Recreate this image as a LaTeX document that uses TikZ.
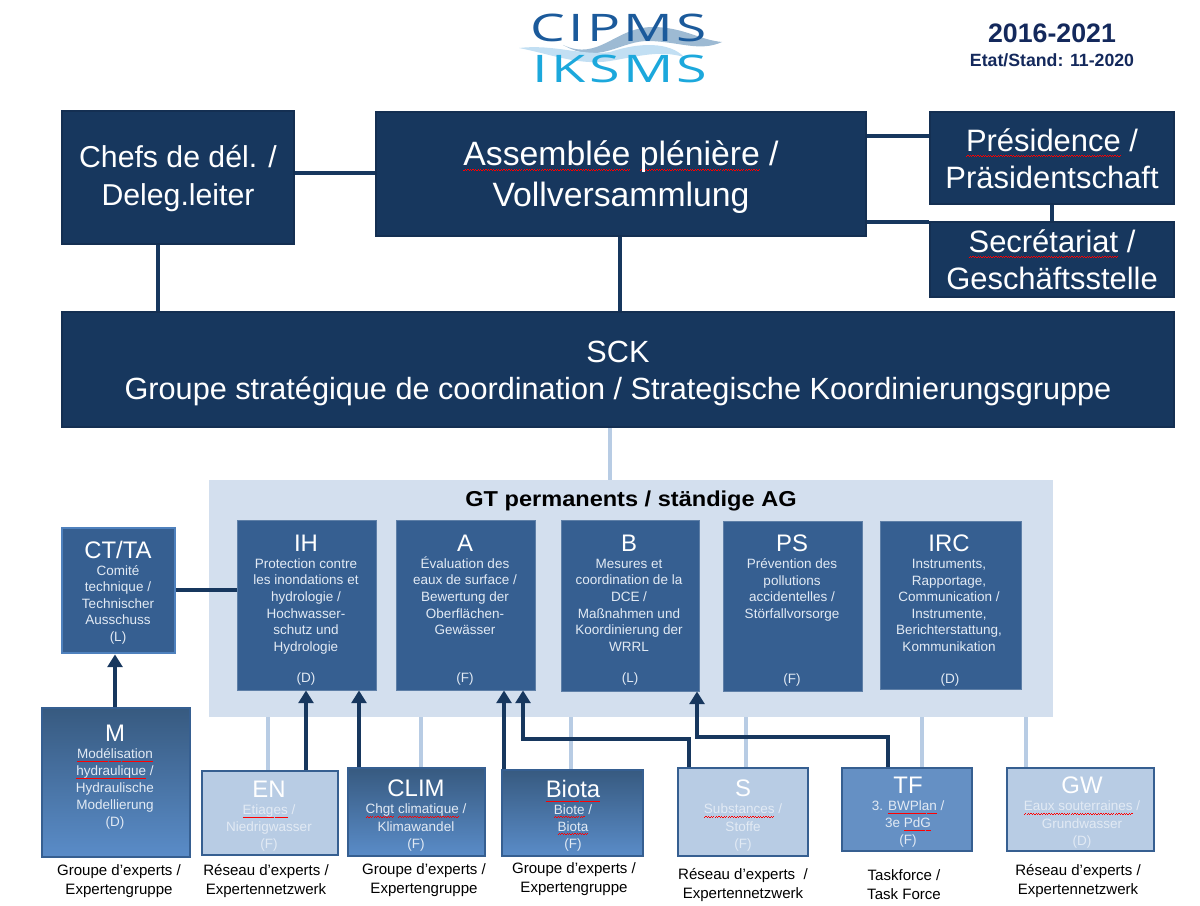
\documentclass[tikz,border=0pt]{standalone}
\usepackage{fontspec}
\setmainfont{Liberation Sans}
\newfontfamily\logofont[LetterSpace=6]{Open Sans}
\usetikzlibrary{arrows.meta}
\definecolor{navy}{HTML}{17375E}
\definecolor{navyedge}{HTML}{142F52}
\definecolor{steel}{HTML}{365F91}
\definecolor{steeledge}{HTML}{4F81BD}
\definecolor{pale}{HTML}{B8CCE4}
\definecolor{panel}{HTML}{D3DFEE}
\definecolor{midblue}{HTML}{6590C4}
\definecolor{gradtop}{HTML}{375A80}
\definecolor{gradbot}{HTML}{5A8CC8}
\definecolor{smalltext}{HTML}{E2EAF4}
\definecolor{logodark}{HTML}{1B5A9B}
\definecolor{logocyan}{HTML}{1CA8DC}
\definecolor{wavegrey}{HTML}{9DBAD3}
\definecolor{wavelight}{HTML}{C2DFF3}
\definecolor{titleblue}{HTML}{14295C}
\def\px{0.025cm}
\tikzset{
	x=\px, y=-\px,
	topbox/.style={draw=navyedge, fill=navy, line width=1.6pt, text=white, align=center},
	wgbox/.style={draw=steel!80!white, fill=steel, line width=0.6pt},
	tabox/.style={draw=steeledge, fill=steel, line width=2pt},
	gradbox/.style={draw=steel, top color=gradtop, bottom color=gradbot, line width=1.8pt},
	palebox/.style={draw=steel, fill=pale, line width=2pt},
	tfbox/.style={draw=steel, fill=midblue, line width=2pt},
	boxtext/.style={anchor=north, text=smalltext, align=center, inner sep=0pt, font=\fontsize{9.6}{11.8}\selectfont},
	expertext/.style={boxtext, font=\fontsize{9.6}{12.1}\selectfont},
	langtext/.style={text=smalltext, inner sep=0pt, font=\fontsize{9.6}{11.7}\selectfont},
	caption/.style={align=center, inner sep=0pt, text=black, font=\fontsize{10.7}{13.6}\selectfont},
	darkline/.style={draw=navy, line width=2.8pt},
	paleline/.style={draw=pale, line width=2.8pt},
	arrowline/.style={darkline, -{Triangle[width=10.5pt,length=9pt]}}
}
\newcommand{\headtxt}[1]{{\fontsize{17}{20}\selectfont\textcolor{white}{#1}}}
\newsavebox{\sqbox}
\newcommand{\wavebit}{\hbox{\vrule width 0.9pt height 0.4pt depth 0pt\vrule width 0.9pt height 1pt depth -0.6pt}}
\newcommand{\sq}[1]{\leavevmode\sbox{\sqbox}{#1}\rlap{\raisebox{\dimexpr-0.11em-1.2pt\relax}{\hbox to \wd\sqbox{\color{red}\xleaders\wavebit\hfil}}}\usebox{\sqbox}}

\begin{document}
\begin{tikzpicture}
	\useasboundingbox (0,0) rectangle (1200,905);
	%%%%% LOGO %%%%%
	\fill[wavegrey] (563,45) .. controls (600,62) and (615,26) .. (655,27) .. controls (685,28) and (700,40) .. (722,42) .. controls (700,52) and (680,42) .. (650,41) .. controls (620,40) and (600,66) .. (563,45);
	\fill[wavelight] (519,48) .. controls (555,44) and (580,56) .. (610,52) .. controls (640,42) and (670,42) .. (684,57) .. controls (660,50) and (640,56) .. (610,61) .. controls (580,66) and (550,54) .. (519,48);
	\node[text=logodark, font=\logofont\fontsize{27}{30}\selectfont, inner sep=0pt] (cipms) at (618.5,28) {\scalebox{1.45}[1]{CIPMS}};
	\node[text=logocyan, font=\logofont\fontsize{27}{30}\selectfont, inner sep=0pt] (iksms) at (620,69) {\scalebox{1.47}[1]{IKSMS}};
	\node[text=titleblue, font=\bfseries\fontsize{19}{20}\selectfont, inner sep=0pt] (period) at (1052,33) {2016-2021};
	\node[text=titleblue, font=\bfseries\fontsize{12.6}{13}\selectfont, inner sep=0pt] (stand) at (1052,60) {Etat/Stand: 11-2020};

	%%%%% TOP %%%%%
	\node[topbox, font=\fontsize{21.5}{26.5}\selectfont, minimum width=232*\px, minimum height=133*\px] (chefs) at (178,177.5) {\rule{0pt}{17.1pt}Chefs de d\'el. /\\Deleg.leiter};
	\node[topbox, font=\fontsize{24}{29.5}\selectfont, minimum width=490*\px, minimum height=124*\px] (pleniere) at (621,174) {\rule{0pt}{22pt}\sq{Assembl\'ee} \sq{pl\'eni\`ere} /\\Vollversammlung};
	\node[topbox, font=\fontsize{22}{26.5}\selectfont, minimum width=244*\px, minimum height=92*\px] (presidence) at (1052,158) {\rule{0pt}{17.6pt}\sq{Pr\'esidence} /\\Pr\"asidentschaft};
	\node[topbox, font=\fontsize{22}{26.5}\selectfont, minimum width=244*\px, minimum height=75*\px] (secretariat) at (1052,259.5) {\sq{Secr\'etariat} /\\Gesch\"aftsstelle};
	\node[topbox, font=\fontsize{21.8}{26.5}\selectfont, minimum width=1112*\px, minimum height=115*\px] (sck) at (618,369.5) {\rule{0pt}{21.3pt}SCK\\Groupe strat\'egique de coordination / Strategische Koordinierungsgruppe};

	\draw[darkline] (chefs.east |- 0,173) -- (pleniere.west |- 0,173);
	\draw[darkline] (chefs.south -| 158,0) -- (sck.north -| 158,0);
	\draw[darkline] (pleniere.south -| 620,0) -- (sck.north -| 620,0);
	\draw[darkline] (pleniere.east |- 0,136) -- (presidence.west |- 0,136);
	\draw[darkline] (pleniere.east |- 0,222) -- (secretariat.west |- 0,222);
	\draw[darkline] (presidence) -- (secretariat);

	%%%%% GT %%%%%
	\node[fill=panel, minimum width=844*\px, minimum height=237*\px, inner sep=0pt] (gt) at (631,598.5) {};
	\node[font=\bfseries\fontsize{14.2}{16}\selectfont, inner sep=0pt] (gttitle) at (631,501) {\scalebox{1.18}[1.08]{GT permanents / st\"andige AG}};
	\draw[paleline] (sck.south -| 610,0) -- (gt.north -| 610,0);

	\node[wgbox, minimum width=139*\px, minimum height=170*\px] (ih) at (306.5,605) {};
	\node[wgbox, minimum width=139*\px, minimum height=170*\px] (a) at (465.5,605) {};
	\node[wgbox, minimum width=138*\px, minimum height=171*\px] (b) at (630,605.5) {};
	\node[wgbox, minimum width=139*\px, minimum height=170*\px] (ps) at (792.5,606) {};
	\node[wgbox, minimum width=141*\px, minimum height=168*\px] (irc) at (950.5,605) {};
	\node[tabox, minimum width=113*\px, minimum height=125*\px] (ta) at (118.5,590.5) {};

	\node[boxtext] (ihtext) at (306,535) {\headtxt{IH}\\Protection contre\\les inondations et\\hydrologie /\\Hochwasser-\\schutz und\\Hydrologie};
	\node[boxtext] (atext) at (465,535) {\headtxt{A}\\\'Evaluation des\\eaux de surface /\\Bewertung der\\Oberfl\"achen-\\Gew\"asser};
	\node[boxtext] (btext) at (629,535) {\headtxt{B}\\Mesures et\\coordination de la\\DCE /\\Ma\ss nahmen und\\Koordinierung der\\WRRL};
	\node[boxtext] (pstext) at (792,535) {\headtxt{PS}\\Pr\'evention des\\pollutions\\accidentelles /\\St\"orfallvorsorge};
	\node[boxtext] (irctext) at (949,535) {\headtxt{IRC}\\Instruments,\\Rapportage,\\Communication /\\Instrumente,\\Berichterstattung,\\Kommunikation};
	\node[boxtext] (tatext) at (118,541) {\headtxt{CT/TA}\\Comit\'e\\technique /\\Technischer\\Ausschuss\\(L)};
	\node[langtext] (ihlang) at (306,679) {(D)};
	\node[langtext] (alang) at (465,679) {(F)};
	\node[langtext] (blang) at (630,679) {(L)};
	\node[langtext] (pslang) at (792,680) {(F)};
	\node[langtext] (irclang) at (950,680) {(D)};
	\draw[darkline] (ta.east |- 0,590) -- (ih.west |- 0,590);

	%%%%% EXPERTS %%%%%
	\node[gradbox, minimum width=148*\px, minimum height=149*\px] (m) at (116,782.5) {};
	\node[palebox, minimum width=136*\px, minimum height=84*\px] (en) at (270,813) {};
	\node[gradbox, minimum width=137*\px, minimum height=88*\px] (clim) at (416.5,812) {};
	\node[gradbox, minimum width=141*\px, minimum height=86*\px] (biota) at (572.5,813) {};
	\node[palebox, minimum width=130*\px, minimum height=88*\px] (s) at (743,812) {};
	\node[tfbox, minimum width=130*\px, minimum height=83*\px] (tf) at (907,809.5) {};
	\node[palebox, minimum width=147*\px, minimum height=83*\px] (gw) at (1080.5,809.5) {};

	\node[expertext] (mtext) at (115,725) {\headtxt{M}\\\sq{Mod\'elisation}\\\sq{hydraulique} /\\Hydraulische\\Modellierung\\(D)};
	\node[expertext] (entext) at (269,781) {\headtxt{EN}\\\sq{Etiages} /\\Niedrigwasser\\(F)};
	\node[expertext] (climtext) at (416,780) {\headtxt{CLIM}\\\sq{Chgt} \sq{climatique} /\\Klimawandel\\(F)};
	\node[expertext] (biotatext) at (573,780) {\headtxt{\sq{Biota}}\\\sq{Biote} /\\\sq{Biota}\\(F)};
	\node[expertext] (stext) at (743,780) {\headtxt{S}\\\sq{Substances} /\\Stoffe\\(F)};
	\node[expertext] (tftext) at (908,777) {\headtxt{TF}\\3. \sq{BWPlan} /\\3e \sq{PdG}\\(F)};
	\node[expertext] (gwtext) at (1082,777) {\headtxt{GW}\\\sq{Eaux souterraines} /\\Grundwasser\\(D)};

	\node[caption] (mcap) at (119,881) {Groupe d'experts /\\Expertengruppe};
	\node[caption] (encap) at (266,881) {R\'eseau d'experts /\\Expertennetzwerk};
	\node[caption] (climcap) at (424,880) {Groupe d'experts /\\Expertengruppe};
	\node[caption] (biotacap) at (574,879) {Groupe d'experts /\\Expertengruppe};
	\node[caption] (scap) at (743,885) {R\'eseau d'experts\ \ /\\Expertennetzwerk};
	\node[caption] (tfcap) at (904,885) {Taskforce /\\Task Force};
	\node[caption] (gwcap) at (1078,881) {R\'eseau d'experts /\\Expertennetzwerk};

	\draw[paleline] (en.north -| 268,0) -- (gt.south -| 268,0);
	\draw[paleline] (clim.north -| 421,0) -- (gt.south -| 421,0);
	\draw[paleline] (biota.north -| 571,0) -- (gt.south -| 571,0);
	\draw[paleline] (s.north -| 746,0) -- (gt.south -| 746,0);
	\draw[paleline] (tf.north -| 922,0) -- (gt.south -| 922,0);
	\draw[paleline] (gw.north -| 1026,0) -- (gt.south -| 1026,0);

	\draw[arrowline] (m.north -| 115,0) -- (ta.south -| 115,0);
	\draw[arrowline] (en.north -| 306,0) -- (ih.south -| 306,0);
	\draw[arrowline] (clim.north -| 359,0) -- (ih.south -| 359,0);
	\draw[arrowline] (biota.north -| 504,0) -- (a.south -| 504,0);
	\draw[arrowline] (s.north -| 689,0) -- (689,739) -- (523,739) -- (a.south -| 523,0);
	\draw[arrowline] (tf.north -| 888,0) -- (888,737) -- (697,737) -- (b.south -| 697,0);
\end{tikzpicture}
\end{document}
